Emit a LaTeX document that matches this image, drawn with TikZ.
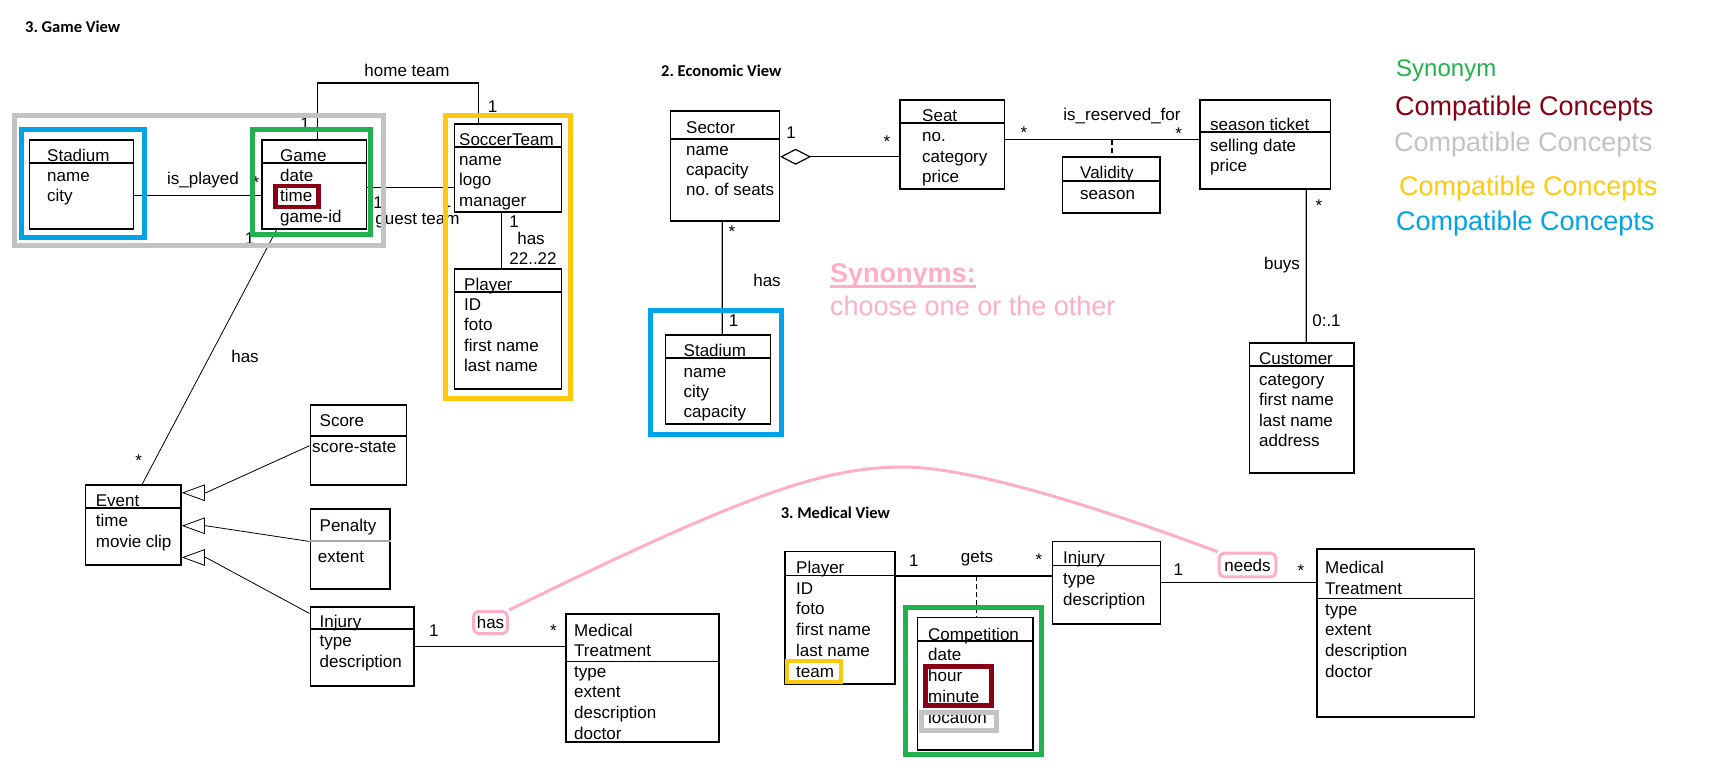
\documentclass[tikz,border=0pt]{standalone}
\usepackage{fontspec}
\setmainfont{Liberation Sans}
\newfontfamily\headfont{Carlito}
\usetikzlibrary{arrows.meta}
\definecolor{syngreen}{RGB}{34,177,76}
\definecolor{compred}{RGB}{136,0,21}
\definecolor{compgray}{RGB}{195,195,195}
\definecolor{compyellow}{RGB}{255,201,14}
\definecolor{compblue}{RGB}{0,162,232}
\definecolor{synpink}{RGB}{255,174,201}
\frenchspacing

\begin{document}
\begin{tikzpicture}[x=1pt, y=-1pt,
    umlbox/.style={draw, line width=1.5pt, anchor=north west, inner sep=0pt},
    hdr/.style={line width=1.5pt},
    attr/.style={anchor=base west, inner sep=0pt, font=\fontsize{17}{20}\selectfont},
    lbl/.style={inner sep=0pt, font=\fontsize{17}{20}\selectfont},
    assoc/.style={line width=1.2pt},
    linkdash/.style={line width=1.8pt, dash pattern=on 5pt off 3pt},
    gen/.style={line width=.8pt, -{Triangle[open, length=23pt, width=16.5pt]}},
    hilite/.style={line width=5pt},
    synline/.style={draw=synpink, line width=3pt},
    synbox/.style={draw=synpink, line width=3pt, rounded corners=5pt, inner sep=0pt,
        font=\fontsize{17}{20}\selectfont},
    viewtitle/.style={anchor=base west, inner sep=0pt, font=\headfont\bfseries\fontsize{16.5}{20}\selectfont},
    legend/.style={anchor=base west, inner sep=0pt, font=\fontsize{27}{32}\selectfont}]
    \useasboundingbox (0,0) rectangle (1713,763);

    % 3. Game View
    \node[viewtitle] (gvTitle) at (25,32.7) {3. Game View};

    \node[umlbox, minimum width=104.1pt, minimum height=89pt] (stadA) at (28.7,139) {};
    \draw[hdr] ([yshift=-24pt]stadA.north west) -- ([yshift=-24pt]stadA.north east);
    \node[attr] (stadA-t) at (47,161.5) {Stadium};
    \foreach \a [count=\i from 0] in {name,city}
        \node[attr] (stadA-\i) at (47,181+20.6*\i) {\a};

    \node[umlbox, minimum width=104.5pt, minimum height=89pt] (game) at (261,139) {};
    \draw[hdr] ([yshift=-24pt]game.north west) -- ([yshift=-24pt]game.north east);
    \node[attr] (game-t) at (280,161.5) {Game};
    \foreach \a [count=\i from 0] in {date,time,game-id}
        \node[attr] (game-\i) at (280,181+20.6*\i) {\a};

    \node[umlbox, minimum width=107.1pt, minimum height=88pt] (team) at (453.5,123) {};
    \draw[hdr] ([yshift=-24pt]team.north west) -- ([yshift=-24pt]team.north east);
    \node[attr] (team-t) at (459,145.5) {SoccerTeam};
    \foreach \a [count=\i from 0] in {name,logo,manager}
        \node[attr] (team-\i) at (459,165+20.6*\i) {\a};

    \node[umlbox, minimum width=107.1pt, minimum height=120pt] (playerA) at (453.5,268) {};
    \draw[hdr] ([yshift=-24pt]playerA.north west) -- ([yshift=-24pt]playerA.north east);
    \node[attr] (playerA-t) at (464,290) {Player};
    \foreach \a [count=\i from 0] in {ID,foto,first name,last name}
        \node[attr] (playerA-\i) at (464,310+20.6*\i) {\a};

    \node[umlbox, minimum width=95.6pt, minimum height=80pt] (event) at (84.7,484) {};
    \draw[hdr] ([yshift=-24pt]event.north west) -- ([yshift=-24pt]event.north east);
    \node[attr] (event-t) at (95.7,506.5) {Event};
    \foreach \a [count=\i from 0] in {time,movie clip}
        \node[attr] (event-\i) at (95.7,526.5+20.6*\i) {\a};

    \node[umlbox, minimum width=96.1pt, minimum height=80pt] (score) at (309.5,404) {};
    \draw[hdr] ([yshift=-32pt]score.north west) -- ([yshift=-32pt]score.north east);
    \node[attr] (score-t) at (319.5,426) {Score};
    \node[attr] (score-0) at (312,452) {score-state};

    \node[umlbox, minimum width=79.5pt, minimum height=80pt] (penalty) at (309.5,508) {};
    \draw[hdr, draw=black!35] ([yshift=-33pt]penalty.north west) -- ([yshift=-33pt]penalty.north east);
    \node[attr] (penalty-t) at (319.5,531.7) {Penalty};
    \node[attr] (penalty-0) at (317.6,562.7) {extent};

    \node[umlbox, minimum width=103.5pt, minimum height=79pt] (injuryA) at (309.5,606) {};
    \draw[hdr] ([yshift=-23pt]injuryA.north west) -- ([yshift=-23pt]injuryA.north east);
    \node[attr] (injuryA-t) at (319.5,627.3) {Injury};
    \foreach \a [count=\i from 0] in {type,description}
        \node[attr] (injuryA-\i) at (319.5,646.7+20.6*\i) {\a};

    \node[umlbox, minimum width=153pt, minimum height=128pt] (medA) at (565.4,613) {};
    \draw[hdr] ([yshift=-48.7pt]medA.north west) -- ([yshift=-48.7pt]medA.north east);
    \node[attr] (medA-t) at (574,636.7) {Medical};
    \node[attr] (medA-u) at (574,656.7) {Treatment};
    \foreach \a [count=\i from 0] in {type,extent,description,doctor}
        \node[attr] (medA-\i) at (574,677.3+20.6*\i) {\a};

    % game view connectors
    \draw[assoc] ([xshift=3.75pt]game.north) -- ++(0,-56) -| ([xshift=-29.5pt]team.north);
    \draw[assoc] ([yshift=-11.5pt]stadA.east) -- ([yshift=-11.5pt]game.west);
    \draw[assoc] ([yshift=-3.5pt]game.east) -- ([yshift=-20pt]team.west);
    \draw[assoc] ([xshift=-6pt]team.south) -- ([xshift=-6pt]playerA.north);
    \draw[line width=.8pt] ([xshift=-37.25pt]game.south) -- ([xshift=9pt]event.north);
    \draw[gen] ([yshift=-1pt]score.west) -- ([xshift=24pt,yshift=32pt]event.east) -- ([yshift=32pt]event.east);
    \draw[gen] ([yshift=7.3pt]penalty.west) -- ([xshift=24pt,yshift=-1pt]event.east) -- ([yshift=-1pt]event.east);
    \draw[gen] ([yshift=32.8pt]injuryA.west) -- ([xshift=24pt,yshift=-32.7pt]event.east) -- ([yshift=-32.7pt]event.east);
    \draw[assoc] (injuryA.east) -- (injuryA.east -| medA.west);

    \node[lbl] (homeL) at (407,70) {home team};
    \node[lbl] (homeG) at (305,124) {1};
    \node[lbl] (homeT) at (492.5,107) {1};
    \node[lbl] (playedL) at (203,180) {is\_played};
    \node[lbl] (playedG) at (256,182.5) {*};
    \node[lbl] (guestG) at (378,202.5) {1};
    \node[lbl] (guestL) at (417.5,221) {guest team};
    \node[lbl] (guestT) at (446.6,202) {1};
    \node[lbl] (eventG) at (249.5,239) {1};
    \node[lbl] (squadT) at (514,222) {1};
    \node[lbl] (squadL) at (531,238) {has};
    \node[lbl] (squadP) at (533,259) {22..22};
    \node[lbl] (eventL) at (245,356) {has};
    \node[lbl] (eventE) at (138.7,460.5) {*};
    \node[lbl] (treatI) at (433.8,630.7) {1};
    \node[lbl] (treatM) at (553.4,630.5) {*};
    \node[synbox, minimum width=34pt, minimum height=22pt] (hasA) at (490.5,622.5) {has};

    % 2. Economic View
    \node[viewtitle] (evTitle) at (661,76) {2. Economic View};

    \node[umlbox, minimum width=109pt, minimum height=110pt] (sector) at (669.6,110) {};
    \draw[hdr] ([yshift=-29pt]sector.north west) -- ([yshift=-29pt]sector.north east);
    \node[attr] (sector-t) at (686,133.3) {Sector};
    \foreach \a [count=\i from 0] in {name,capacity,no. of seats}
        \node[attr] (sector-\i) at (686,155+20.4*\i) {\a};

    \node[umlbox, minimum width=104.6pt, minimum height=89pt] (seat) at (899,99) {};
    \draw[hdr] ([yshift=-24pt]seat.north west) -- ([yshift=-24pt]seat.north east);
    \node[attr] (seat-t) at (922,121) {Seat};
    \foreach \a [count=\i from 0] in {no.,category,price}
        \node[attr] (seat-\i) at (922,141.7+20.5*\i) {\a};

    \node[umlbox, minimum width=97.4pt, minimum height=56pt] (validity) at (1061.6,156) {};
    \draw[hdr] ([yshift=-25pt]validity.north west) -- ([yshift=-25pt]validity.north east);
    \node[attr] (validity-t) at (1080,178.3) {Validity};
    \node[attr] (validity-0) at (1080,199.3) {season};

    \node[umlbox, minimum width=130.5pt, minimum height=89pt] (ticket) at (1199,99) {};
    \draw[hdr] ([yshift=-33pt]ticket.north west) -- ([yshift=-33pt]ticket.north east);
    \node[attr] (ticket-t) at (1210,130) {season ticket};
    \foreach \a [count=\i from 0] in {selling date,price}
        \node[attr] (ticket-\i) at (1210,151+20.6*\i) {\a};

    \node[umlbox, minimum width=104.3pt, minimum height=130pt] (customer) at (1248.7,342) {};
    \draw[hdr] ([yshift=-24pt]customer.north west) -- ([yshift=-24pt]customer.north east);
    \node[attr] (customer-t) at (1259,364.5) {Customer};
    \foreach \a [count=\i from 0] in {category,first name,last name,address}
        \node[attr] (customer-\i) at (1259,385+20.6*\i) {\a};

    \node[umlbox, minimum width=104.9pt, minimum height=89pt] (stadB) at (664.7,334) {};
    \draw[hdr] ([yshift=-24pt]stadB.north west) -- ([yshift=-24pt]stadB.north east);
    \node[attr] (stadB-t) at (683.5,356.7) {Stadium};
    \foreach \a [count=\i from 0] in {name,city,capacity}
        \node[attr] (stadB-\i) at (683.5,377.3+20.2*\i) {\a};

    % economic view connectors
    \draw[assoc, {Diamond[open, length=31pt, width=16pt]}-] ([yshift=9pt]sector.east) -- ([yshift=-12.5pt]seat.west);
    \draw[assoc] ([yshift=4.5pt]seat.east) -- coordinate[pos=.55] (resv) ([yshift=4.5pt]ticket.west);
    \draw[linkdash] (resv) -- (resv |- validity.north);
    \draw[assoc] ([xshift=-2.7pt]sector.south) -- ([xshift=4.25pt]stadB.north);
    \draw[assoc] ([xshift=41.25pt]ticket.south) -- ([xshift=4.65pt]customer.north);

    \node[lbl] (partS) at (791,133) {1};
    \node[lbl] (partT) at (887,141.5) {*};
    \node[lbl] (resvL) at (1122,116) {is\_reserved\_for};
    \node[lbl] (resvS) at (1024,132.5) {*};
    \node[lbl] (resvT) at (1178.7,133.5) {*};
    \node[lbl] (placeS) at (732,231.5) {*};
    \node[lbl] (placeL) at (767,280) {has};
    \node[lbl] (placeT) at (733.5,321) {1};
    \node[lbl] (buysT) at (1319,205.5) {*};
    \node[lbl] (buysL) at (1282,265) {buys};
    \node[lbl] (buysC) at (1326.5,321) {0:.1};

    % 3. Medical View
    \node[viewtitle] (mvTitle) at (780.6,518.3) {3. Medical View};

    \node[umlbox, minimum width=109.9pt, minimum height=132.6pt] (playerB) at (784.4,550.7) {};
    \draw[hdr] ([yshift=-24.6pt]playerB.north west) -- ([yshift=-24.6pt]playerB.north east);
    \node[attr] (playerB-t) at (796,573.3) {Player};
    \foreach \a [count=\i from 0] in {ID,foto,first name,last name,team}
        \node[attr] (playerB-\i) at (796,594+20.8*\i) {\a};

    \node[umlbox, minimum width=115.9pt, minimum height=132.6pt] (comp) at (916.5,616.7) {};
    \draw[hdr] ([yshift=-24.3pt]comp.north west) -- ([yshift=-24.3pt]comp.north east);
    \node[attr] (comp-t) at (928,640) {Competition};
    \foreach \a [count=\i from 0] in {date,hour,minute,location}
        \node[attr] (comp-\i) at (928,660+21.3*\i) {\a};

    \node[umlbox, minimum width=107.9pt, minimum height=82.6pt] (injuryB) at (1051.6,540.7) {};
    \draw[hdr] ([yshift=-24.6pt]injuryB.north west) -- ([yshift=-24.6pt]injuryB.north east);
    \node[attr] (injuryB-t) at (1063,563.3) {Injury};
    \foreach \a [count=\i from 0] in {type,description}
        \node[attr] (injuryB-\i) at (1063,584.3+20.7*\i) {\a};

    \node[umlbox, minimum width=157.5pt, minimum height=168pt] (medB) at (1316,548.3) {};
    \draw[hdr] ([yshift=-50pt]medB.north west) -- ([yshift=-50pt]medB.north east);
    \node[attr] (medB-t) at (1325,573.3) {Medical};
    \node[attr] (medB-u) at (1325,594) {Treatment};
    \foreach \a [count=\i from 0] in {type,extent,description,doctor}
        \node[attr] (medB-\i) at (1325,615+20.8*\i) {\a};

    % medical view connectors
    \draw[assoc] ([yshift=41.7pt]playerB.east) -- coordinate[pos=.518] (getsM) ([yshift=6.7pt]injuryB.west);
    \draw[linkdash] (getsM) -- (getsM |- comp.north);
    \draw[assoc] (injuryB.east) -- (injuryB.east -| medB.west);

    \node[lbl] (getsP) at (913.8,560.7) {1};
    \node[lbl] (getsL) at (977,559) {gets};
    \node[lbl] (getsI) at (1039,560) {*};
    \node[lbl] (needsI) at (1178.3,570) {1};
    \node[lbl] (needsM) at (1301,570.5) {*};
    \node[synbox, minimum width=56.7pt, minimum height=23.6pt] (needsB) at (1247.5,565) {needs};

    % colour frames
    \draw[hilite, compgray] (14.7,115.5) rectangle (383.3,245.5);
    \draw[hilite, compblue] (21,129.5) rectangle (144.8,237.5);
    \draw[hilite, syngreen] (252,129.5) rectangle (370.5,234.5);
    \draw[hilite, compred, line width=4.5pt] (275.5,186) rectangle (318.5,207);
    \draw[hilite, compyellow] (445.5,115.5) rectangle (570.5,398.5);
    \draw[hilite, compblue] (650.5,310.5) rectangle (781.5,434.5);
    \draw[hilite, compyellow, line width=4pt] (787,661) rectangle (840.6,682);
    \draw[hilite, syngreen] (905.5,607.5) rectangle (1041.5,754.2);
    \draw[hilite, compred] (925,666.3) rectangle (991,705.3);
    \draw[hilite, compgray] (921.5,712) rectangle (996.7,730.7);

    % synonym link
    \coordinate (arcTop) at (903,467);
    \draw[synline] (hasA.north east) .. controls +(235,-115) and +(-80,0) .. (arcTop)
        .. controls +(77,0) and +(-89,-33) .. (needsB.north west);
    \node[legend, text=synpink, font=\bfseries\fontsize{27}{32}\selectfont] (synHead) at (830,282.5) {Synonyms:};
    \draw[synpink, line width=2.5pt] ([yshift=-4pt]synHead.base west) -- ([yshift=-4pt]synHead.base east);
    \node[legend, text=synpink] (synNote) at (830,315) {choose one or the other};

    % legend
    \node[legend, font=\fontsize{24}{28}\selectfont, text=syngreen] (legSyn) at (1396,76) {Synonym};
    \node[legend, text=compred] (legRed) at (1395,115) {Compatible Concepts};
    \node[legend, text=compgray] (legGray) at (1394,151.7) {Compatible Concepts};
    \node[legend, text=compyellow] (legYellow) at (1399,195) {Compatible Concepts};
    \node[legend, text=compblue] (legBlue) at (1396,230) {Compatible Concepts};
\end{tikzpicture}
\end{document}
